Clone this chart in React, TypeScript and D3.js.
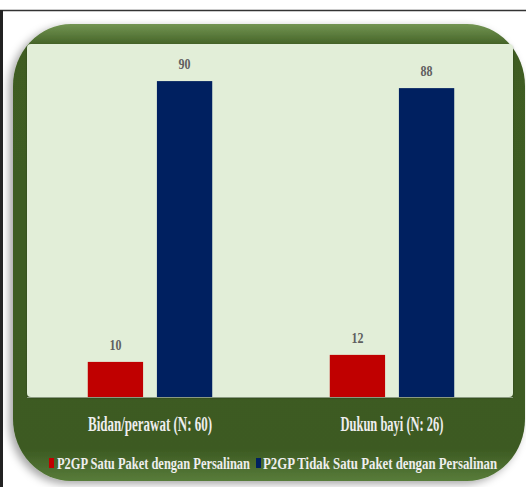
import React, { useLayoutEffect, useRef, useState } from "react";
import * as d3 from "d3";

const categories = ["Bidan/perawat (N: 60)", "Dukun bayi (N: 26)"];
const seriesNames = [
  "P2GP Satu Paket dengan Persalinan",
  "P2GP Tidak Satu Paket dengan Persalinan",
];
const satuPaket = [10, 12];
const tidakSatuPaket = [90, 88];
const seriesColors = ["#c00000", "#002060"];

const W = 526;
const H = 487;
const panel = { left: 27, right: 513, top: 44, bottom: 397 };

// Text squeezed horizontally to a target width (condensed look)
function FitText(props: {
  x: number;
  y: number;
  width: number;
  anchor?: "start" | "middle";
  fontSize: number;
  fill: string;
  children: React.ReactNode;
}) {
  const ref = useRef<SVGTextElement>(null);
  const [sx, setSx] = useState(0.7);
  useLayoutEffect(() => {
    if (ref.current) {
      const len = ref.current.getComputedTextLength();
      if (len > 0) setSx(props.width / len);
    }
  }, [props.width, props.children, props.fontSize]);
  const left = props.anchor === "middle" ? props.x - props.width / 2 : props.x;
  return (
    <text
      ref={ref}
      transform={`translate(${left},${props.y}) scale(${sx},1)`}
      fontSize={props.fontSize}
      fontWeight="bold"
      fill={props.fill}
    >
      {props.children}
    </text>
  );
}

export default function App() {
  const values = [satuPaket, tidakSatuPaket];

  const x0 = d3
    .scaleBand<string>()
    .domain(categories)
    .range([29, 513])
    .padding(0);
  const x1 = d3
    .scaleBand<number>()
    .domain([0, 1])
    .range([0, x0.bandwidth()])
    .paddingInner(0.2)
    .paddingOuter(0.85);
  const y = d3.scaleLinear().domain([0, 100]).range([panel.bottom, 46]);

  const catLabelWidths = [124, 103];
  const legendItems = [
    { sx: 49, tx: 57, tw: 193 },
    { sx: 256, tx: 263, tw: 234 },
  ];

  return (
    <svg
      width={W}
      height={H}
      style={{ position: "absolute", left: 0, top: 0, background: "#ffffff" }}
      fontFamily="'Liberation Serif', serif"
    >
      <defs>
        <linearGradient id="frameGrad" x1="0" y1="0" x2="0" y2="1">
          <stop offset="0" stopColor="#739553" />
          <stop offset="0.05" stopColor="#3f5d22" />
          <stop offset="0.93" stopColor="#3c5a22" />
          <stop offset="1" stopColor="#587c3a" />
        </linearGradient>
        <filter id="frameShadow" x="-10%" y="-10%" width="120%" height="120%">
          <feDropShadow dx="-4" dy="3" stdDeviation="4" floodColor="#000" floodOpacity="0.35" />
        </filter>
        <filter id="panelShadow" x="-5%" y="-5%" width="110%" height="110%">
          <feDropShadow dx="0" dy="1" stdDeviation="1" floodColor="#000" floodOpacity="0.3" />
        </filter>
      </defs>

      {/* outer frame lines */}
      <line x1={0} x2={W} y1={10.5} y2={10.5} stroke="#333" strokeWidth={1.5} />
      <line x1={1.5} x2={1.5} y1={10} y2={H} stroke="#222" strokeWidth={3} />

      {/* green rounded card */}
      <rect
        x={13}
        y={24}
        width={512}
        height={457}
        rx={58}
        ry={62}
        fill="url(#frameGrad)"
        filter="url(#frameShadow)"
      />

      {/* light plot panel */}
      <rect
        x={panel.left}
        y={panel.top}
        width={panel.right - panel.left}
        height={panel.bottom - panel.top}
        rx={4}
        fill="#e2eed8"
        filter="url(#panelShadow)"
      />
      <line
        x1={panel.left}
        x2={panel.right}
        y1={panel.bottom + 0.5}
        y2={panel.bottom + 0.5}
        stroke="#8a9a80"
        strokeWidth={1}
      />

      {/* bars and value labels */}
      {categories.map((cat, ci) => (
        <g key={cat} transform={`translate(${x0(cat)},0)`}>
          {values.map((vals, si) => {
            const v = vals[ci];
            const bx = x1(si) as number;
            const bw = x1.bandwidth();
            return (
              <g key={si}>
                <rect
                  x={bx}
                  y={y(v)}
                  width={bw}
                  height={y(0) - y(v)}
                  fill={seriesColors[si]}
                />
                <FitText
                  x={bx + bw / 2}
                  y={y(v) - 12}
                  width={12}
                  anchor="middle"
                  fontSize={15}
                  fill="#5f5f5f"
                >
                  {v}
                </FitText>
              </g>
            );
          })}
        </g>
      ))}

      {/* category labels */}
      {categories.map((cat, ci) => {
        const cx = (x0(cat) as number) + x0.bandwidth() / 2;
        return (
          <FitText
            key={cat}
            x={cx}
            y={431}
            width={catLabelWidths[ci]}
            anchor="middle"
            fontSize={20}
            fill="#eeeeee"
          >
            {cat}
          </FitText>
        );
      })}

      {/* legend */}
      {seriesNames.map((name, si) => {
        const it = legendItems[si];
        return (
          <g key={name}>
            <rect x={it.sx} y={458} width={5} height={10} fill={seriesColors[si]} />
            <FitText x={it.tx} y={468.5} width={it.tw} fontSize={17} fill="#eeeeee">
              {name}
            </FitText>
          </g>
        );
      })}
    </svg>
  );
}
